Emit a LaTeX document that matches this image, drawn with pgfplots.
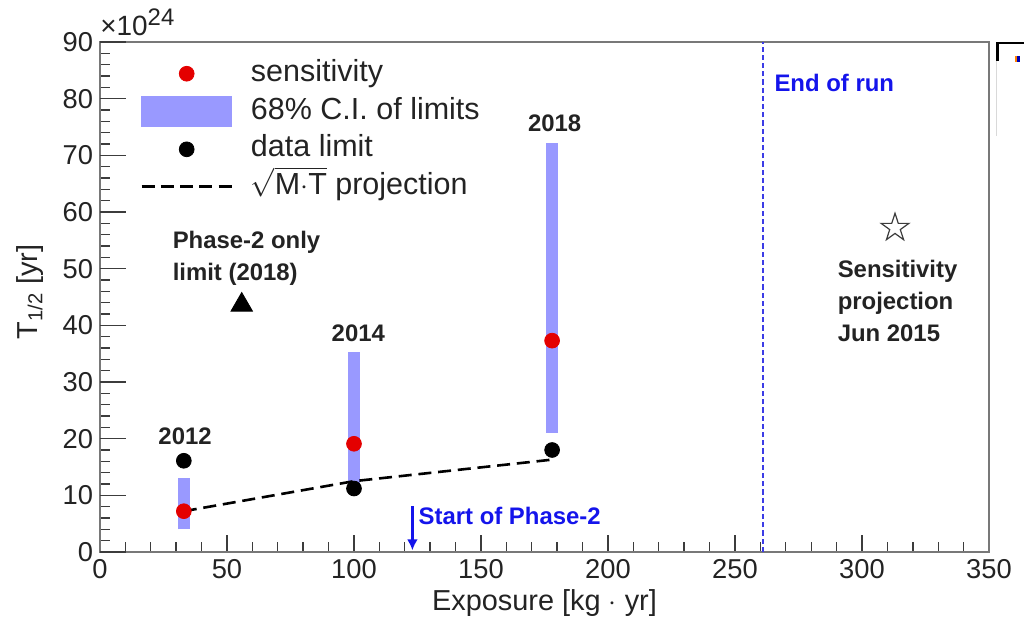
\documentclass[border=0pt]{standalone}
\usepackage{pgfplots}
\pgfplotsset{compat=1.18}
\usepackage{fontspec}
\setmainfont{Liberation Sans}
\usetikzlibrary{arrows.meta}

\definecolor{bandblue}{RGB}{153,153,255}
\definecolor{sensred}{RGB}{228,0,0}
\definecolor{framegray}{RGB}{120,120,120}
\definecolor{tickgray}{RGB}{60,60,60}
\definecolor{labelgray}{RGB}{35,35,35}
\definecolor{noteblue}{RGB}{20,20,235}
\definecolor{runblue}{RGB}{60,60,230}

% open five-pointed star (projection marker)
\pgfdeclareplotmark{ostar}{%
  \pgfpathmoveto{\pgfpointpolar{90}{\pgfplotmarksize}}%
  \pgfpathlineto{\pgfpointpolar{126}{0.382\pgfplotmarksize}}%
  \pgfpathlineto{\pgfpointpolar{162}{\pgfplotmarksize}}%
  \pgfpathlineto{\pgfpointpolar{198}{0.382\pgfplotmarksize}}%
  \pgfpathlineto{\pgfpointpolar{234}{\pgfplotmarksize}}%
  \pgfpathlineto{\pgfpointpolar{270}{0.382\pgfplotmarksize}}%
  \pgfpathlineto{\pgfpointpolar{306}{\pgfplotmarksize}}%
  \pgfpathlineto{\pgfpointpolar{342}{0.382\pgfplotmarksize}}%
  \pgfpathlineto{\pgfpointpolar{18}{\pgfplotmarksize}}%
  \pgfpathlineto{\pgfpointpolar{54}{0.382\pgfplotmarksize}}%
  \pgfpathclose
  \pgfusepathqfillstroke}

\newcommand{\notefont}{\fontsize{12}{16}\selectfont\bfseries}

\begin{document}
\begin{tikzpicture}
\begin{axis}[
  name=ax,
  scale only axis,
  width=444.5bp, height=255bp,
  xmin=0, xmax=350, ymin=0, ymax=90,
  xtick={0,50,...,350}, ytick={0,10,...,90},
  minor x tick num=4, minor y tick num=4,
  tick pos=left, tick align=inside,
  major tick length=8.3bp, minor tick length=5bp,
  extra y ticks={0,10,...,90}, extra y tick labels={},
  extra tick style={major tick length=13bp},
  every tick/.style={tickgray, line width=0.7bp},
  axis line style={framegray, line width=1.2bp},
  /pgf/number format/assume math mode=true,
  ticklabel style={font=\fontsize{13.7}{14}\selectfont, text=labelgray},
  xlabel={Exposure [kg $\cdot$ yr]},
  ylabel={T\textsubscript{1/2} [yr]},
  label style={font=\fontsize{14.5}{16}\selectfont, text=labelgray},
  xlabel style={at={(axis description cs:0.5,-0.1)}, anchor=center},
  ylabel style={at={(axis description cs:-0.0787,0.51)}, anchor=center, rotate=0},
  clip=false,
  legend cell align=left,
  legend style={draw=none, fill=none, inner sep=0pt,
    at={(axis description cs:0.045,0.968)}, anchor=north west,
    font=\fontsize{15.3}{17}\selectfont, text=labelgray,
    row sep=3.7bp, column sep=9bp,
    nodes={inner sep=0pt, text height=10.5bp, text depth=3bp}},
]

% legend entries
\addlegendimage{legend image code/.code={
  \path[draw=none, fill=none] (0bp,-7.5bp) rectangle (45bp,7.5bp);
  \fill[sensred] (22.5bp,0bp) circle (3.7bp);}}
\addlegendentry{sensitivity}
\addlegendimage{legend image code/.code={
  \fill[bandblue] (0bp,-7.5bp) rectangle (45bp,7.5bp);}}
\addlegendentry{68\% C.I. of limits}
\addlegendimage{legend image code/.code={
  \path[draw=none, fill=none] (0bp,-7.5bp) rectangle (45bp,7.5bp);
  \fill[black] (22.5bp,0bp) circle (3.7bp);}}
\addlegendentry{data limit}
\addlegendimage{legend image code/.code={
  \path[draw=none, fill=none] (0bp,-7.5bp) rectangle (45bp,7.5bp);
  \draw[black, line width=1.3bp, dash pattern=on 6.5bp off 3.1bp] (0bp,0bp) -- (45bp,0bp);}}
\addlegendentry{$\sqrt{\mbox{M$\cdot$T}}$ projection}

% 68% C.I. bands of the limits
\addplot[bandblue, line width=6bp, forget plot] coordinates {(33,4.0) (33,13.1)};
\addplot[bandblue, line width=6bp, forget plot] coordinates {(100,12.0) (100,35.3)};
\addplot[bandblue, line width=6bp, forget plot] coordinates {(178,21.0) (178,72.1)};

% sqrt(M T) projection
\addplot[black, line width=1.3bp, dash pattern=on 6.5bp off 3.4bp, forget plot]
  coordinates {(33,7.2) (100,12.5) (178,16.3)};

% data limits
\addplot[only marks, mark=*, mark size=3.7bp, black, forget plot]
  coordinates {(33,16.1) (100,11.2) (178,18.0)};

% median sensitivity
\addplot[only marks, mark=*, mark size=3.7bp, sensred, mark options={draw=sensred}, forget plot]
  coordinates {(33,7.2) (100,19.1) (178,37.3)};

% Phase-2 only limit
\addplot[only marks, mark=triangle*, mark size=6.2bp, black, forget plot]
  coordinates {(55.8,43.6)};

% sensitivity projection
\addplot[only marks, mark=ostar, mark size=7.3bp, forget plot,
  mark options={draw=tickgray, fill=white, line width=0.6bp}]
  coordinates {(313,57.2)};

% end of run
\addplot[runblue, line width=0.9bp, dash pattern=on 2.6bp off 1.5bp, forget plot]
  coordinates {(261,0) (261,90)};

% start of Phase-2
\addplot[noteblue, line width=1.1bp, -{Latex[length=5.5bp,width=5.5bp]}, forget plot]
  coordinates {(123,8.1) (123,0.3)};

% annotations
\node[font=\notefont, text=labelgray] at (axis cs:33.5,20.5) {2012};
\node[font=\notefont, text=labelgray] at (axis cs:101.7,38.6) {2014};
\node[font=\notefont, text=labelgray] at (axis cs:179,75.6) {2018};
\node[font=\notefont, text=labelgray, align=left, anchor=west, inner sep=0pt]
  at (axis cs:28.5,51.8) {Phase-2 only\\limit (2018)};
\node[font=\notefont, text=labelgray, align=left, anchor=west, inner sep=0pt]
  at (axis cs:290.3,44.3) {Sensitivity\\projection\\Jun 2015};
\node[font=\notefont, text=noteblue, anchor=west, inner sep=0pt]
  at (axis cs:265.4,82.7) {End of run};
\node[font=\notefont, text=noteblue, anchor=west, inner sep=0pt]
  at (axis cs:125.3,6.4) {Start of Phase-2};

% exponent of the y axis
\node[anchor=base west, inner sep=0pt, text=labelgray, font=\fontsize{14}{14}\selectfont]
  at ([yshift=3.3bp]rel axis cs:0,1) {×10\raisebox{5bp}{\fontsize{12}{12}\selectfont 24}};
\end{axis}

% corner of a neighbouring frame
\draw[black, line width=1.2bp] ([xshift=4.3bp,yshift=-9.5bp]ax.north east)
  -- ([xshift=4.3bp,yshift=-0.6bp]ax.north east) -- ([xshift=17.5bp,yshift=-0.6bp]ax.north east);
\draw[black!15, line width=0.5bp] ([xshift=3.8bp,yshift=-9.5bp]ax.north east)
  -- ([xshift=3.8bp,yshift=-47bp]ax.north east);
\fill[orange] ([xshift=13bp,yshift=-7bp]ax.north east) rectangle ++(1.2bp,-2.8bp);
\fill[blue!70!black] ([xshift=14.2bp,yshift=-7bp]ax.north east) rectangle ++(1.2bp,-2.8bp);

\pgfresetboundingbox
\path[use as bounding box] ([xshift=-50bp,yshift=-34bp]ax.south west) rectangle ++(516bp,310bp);
\end{tikzpicture}
\end{document}
